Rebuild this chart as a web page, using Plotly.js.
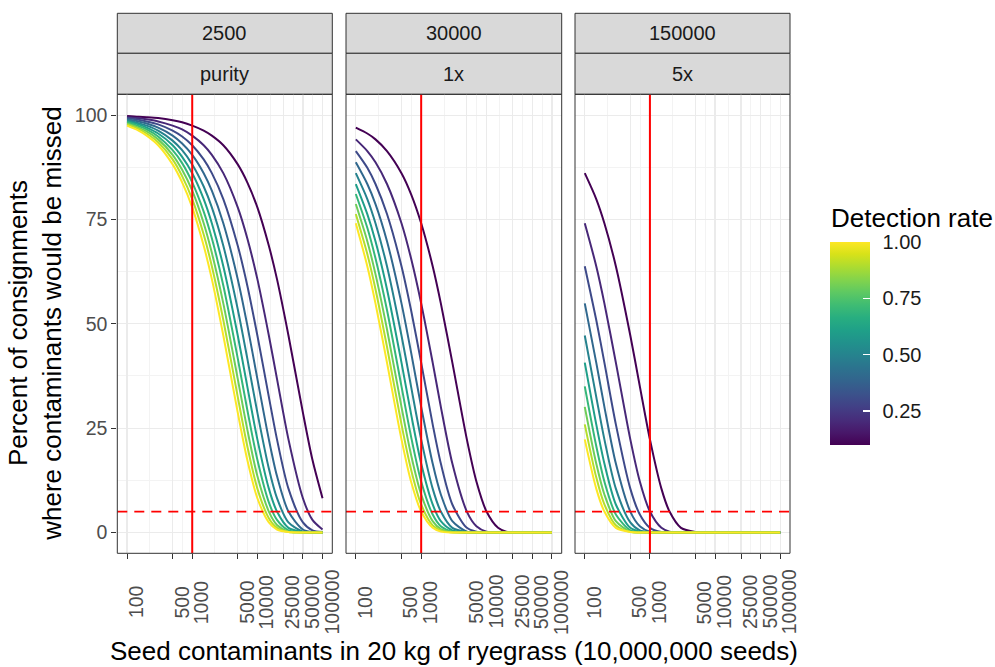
<!DOCTYPE html>
<html><head><meta charset="utf-8">
<script src="https://cdn.plot.ly/plotly-3.0.1.min.js"></script>
<style>html,body{margin:0;padding:0;background:#fff}#chart{width:995px;height:667px}</style>
</head><body><div id="chart"></div>
<script>
// ---------- data ----------
const contaminants = [100,150,200,300,500,700,1000,1500,2000,3000,5000,7000,10000,15000,20000,30000,50000,70000,100000];
const detectionRates = [0.1,0.2,0.3,0.4,0.5,0.6,0.7,0.8,0.9,1.0];
const sampleSizes = ['2500','30000','150000'];
const methods = ['purity','1x','5x'];

const missedPurity = [
  [99.8,99.6,99.5,99.3,98.8,98.3,97.5,96.3,95.1,92.8,88.2,83.9,77.9,68.7,60.7,47.2,28.7,17.4,8.2],
  [99.5,99.3,99.0,98.5,97.5,96.6,95.1,92.8,90.5,86.1,77.9,70.5,60.7,47.2,36.8,22.3,8.2,3.0,0.7],
  [99.3,98.9,98.5,97.8,96.3,94.9,92.8,89.4,86.1,79.9,68.7,59.2,47.2,32.5,22.3,10.5,2.4,0.5,0.1],
  [99.0,98.5,98.0,97.0,95.1,93.2,90.5,86.1,81.9,74.1,60.7,49.7,36.8,22.3,13.5,5.0,0.7,0.1,0.0],
  [98.8,98.1,97.5,96.3,93.9,91.6,88.2,82.9,77.9,68.7,53.5,41.7,28.7,15.3,8.2,2.4,0.2,0.0,0.0],
  [98.5,97.8,97.0,95.6,92.8,90.0,86.1,79.9,74.1,63.8,47.2,35.0,22.3,10.5,5.0,1.1,0.1,0.0,0.0],
  [98.3,97.4,96.6,94.9,91.6,88.5,83.9,76.9,70.5,59.2,41.7,29.4,17.4,7.2,3.0,0.5,0.0,0.0,0.0],
  [98.0,97.0,96.1,94.2,90.5,86.9,81.9,74.1,67.0,54.9,36.8,24.7,13.5,5.0,1.8,0.2,0.0,0.0,0.0],
  [97.8,96.7,95.6,93.5,89.4,85.4,79.9,71.4,63.8,50.9,32.5,20.7,10.5,3.4,1.1,0.1,0.0,0.0,0.0],
  [97.5,96.3,95.1,92.8,88.2,83.9,77.9,68.7,60.7,47.2,28.7,17.4,8.2,2.4,0.7,0.1,0.0,0.0,0.0]
];
const missed1x = [
  [97.0,95.6,94.2,91.4,86.1,81.1,74.1,63.8,54.9,40.7,22.3,12.2,5.0,1.1,0.2,0.0,0.0,0.0,0.0],
  [94.2,91.4,88.7,83.5,74.1,65.7,54.9,40.7,30.1,16.5,5.0,1.5,0.2,0.0,0.0,0.0,0.0,0.0,0.0],
  [91.4,87.4,83.5,76.3,63.8,53.3,40.7,25.9,16.5,6.7,1.1,0.2,0.0,0.0,0.0,0.0,0.0,0.0,0.0],
  [88.7,83.5,78.7,69.8,54.9,43.2,30.1,16.5,9.1,2.7,0.2,0.0,0.0,0.0,0.0,0.0,0.0,0.0,0.0],
  [86.1,79.9,74.1,63.8,47.2,35.0,22.3,10.5,5.0,1.1,0.1,0.0,0.0,0.0,0.0,0.0,0.0,0.0,0.0],
  [83.5,76.3,69.8,58.3,40.7,28.4,16.5,6.7,2.7,0.5,0.0,0.0,0.0,0.0,0.0,0.0,0.0,0.0,0.0],
  [81.1,73.0,65.7,53.3,35.0,23.0,12.2,4.3,1.5,0.2,0.0,0.0,0.0,0.0,0.0,0.0,0.0,0.0,0.0],
  [78.7,69.8,61.9,48.7,30.1,18.6,9.1,2.7,0.8,0.1,0.0,0.0,0.0,0.0,0.0,0.0,0.0,0.0,0.0],
  [76.3,66.7,58.3,44.5,25.9,15.1,6.7,1.7,0.5,0.0,0.0,0.0,0.0,0.0,0.0,0.0,0.0,0.0,0.0],
  [74.1,63.8,54.9,40.7,22.3,12.2,5.0,1.1,0.2,0.0,0.0,0.0,0.0,0.0,0.0,0.0,0.0,0.0,0.0]
];
const missed5x = [
  [86.1,79.9,74.1,63.8,47.2,35.0,22.3,10.5,5.0,1.1,0.1,0.0,0.0,0.0,0.0,0.0,0.0,0.0,0.0],
  [74.1,63.8,54.9,40.7,22.3,12.2,5.0,1.1,0.2,0.0,0.0,0.0,0.0,0.0,0.0,0.0,0.0,0.0,0.0],
  [63.8,50.9,40.7,25.9,10.5,4.3,1.1,0.1,0.0,0.0,0.0,0.0,0.0,0.0,0.0,0.0,0.0,0.0,0.0],
  [54.9,40.7,30.1,16.5,5.0,1.5,0.2,0.0,0.0,0.0,0.0,0.0,0.0,0.0,0.0,0.0,0.0,0.0,0.0],
  [47.2,32.5,22.3,10.5,2.4,0.5,0.1,0.0,0.0,0.0,0.0,0.0,0.0,0.0,0.0,0.0,0.0,0.0,0.0],
  [40.7,25.9,16.5,6.7,1.1,0.2,0.0,0.0,0.0,0.0,0.0,0.0,0.0,0.0,0.0,0.0,0.0,0.0,0.0],
  [35.0,20.7,12.2,4.3,0.5,0.1,0.0,0.0,0.0,0.0,0.0,0.0,0.0,0.0,0.0,0.0,0.0,0.0,0.0],
  [30.1,16.5,9.1,2.7,0.2,0.0,0.0,0.0,0.0,0.0,0.0,0.0,0.0,0.0,0.0,0.0,0.0,0.0,0.0],
  [25.9,13.2,6.7,1.7,0.1,0.0,0.0,0.0,0.0,0.0,0.0,0.0,0.0,0.0,0.0,0.0,0.0,0.0,0.0],
  [22.3,10.5,5.0,1.1,0.1,0.0,0.0,0.0,0.0,0.0,0.0,0.0,0.0,0.0,0.0,0.0,0.0,0.0,0.0]
];

const xTickVals = [100,500,1000,5000,10000,25000,50000,100000];
const xTickText = ['100','500','1000','5000','10000','25000','50000','100000'];
const yTickVals = [0,25,50,75,100];
const colorTickVals = [0.25,0.5,0.75,1.0];
const colorTickText = ['0.25','0.50','0.75','1.00'];
const refContaminants = 1000;
const refPercent = 5;

const xTitle = 'Seed contaminants in 20 kg of ryegrass (10,000,000 seeds)';
const yTitle = 'Percent of consignments<br>where contaminants would be missed';
const legendTitle = 'Detection rate';

// ---------- styling / layout ----------
const panelData = [missedPurity, missed1x, missed5x];
const W = 995, H = 667;
const px = v => v / W;
const py = v => 1 - v / H;
const panelX = [[117.3,332.3],[346,561.7],[575,790]];
const panelTop = 94.3, panelBottom = 553.3;
const stripTop = 13.3, stripMid = 53.3;
const cbLeft = 830, cbWidth = 40, cbTop = 241.7, cbBottom = 445;
const palette = ['#440154','#482878','#3E4A89','#31688E','#26828E','#1F9E89','#35B779','#6DCD59','#B4DE2C','#FDE725'];
const FONT = 'Liberation Sans, Arial, sans-serif';
const minorX = xTickVals.slice(1).map((v,i) => Math.sqrt(v * xTickVals[i]));
const minorY = yTickVals.slice(1).map((v,i) => (v + yTickVals[i]) / 2);

const traces = [];
const layout = {
  width: W, height: H,
  margin: {l:0, r:0, t:0, b:0},
  paper_bgcolor: '#fff', plot_bgcolor: '#fff',
  font: {family: FONT, color: '#1A1A1A'},
  showlegend: false,
  shapes: [], annotations: []
};

for (let p = 0; p < 3; p++) {
  const suf = p === 0 ? '' : String(p + 1);
  const xid = 'x' + suf, yid = 'y' + suf;
  for (let j = 0; j < detectionRates.length; j++) {
    traces.push({
      type: 'scatter', mode: 'lines',
      x: contaminants, y: panelData[p][j],
      xaxis: xid, yaxis: yid,
      line: {color: palette[j], width: 2, shape: 'spline', smoothing: 0.8},
      hoverinfo: 'skip', showlegend: false
    });
  }
  layout['xaxis' + suf] = {
    type: 'log', range: [1.85, 5.15],
    domain: [px(panelX[p][0]), px(panelX[p][1])],
    anchor: yid,
    tickvals: xTickVals, showticklabels: false,
    ticks: 'outside', ticklen: 5, tickwidth: 1, tickcolor: '#333333',
    showgrid: true, gridcolor: '#EBEBEB', gridwidth: 1.2,
    minor: {tickvals: minorX, showgrid: true, gridcolor: '#F3F3F3', gridwidth: 1, ticks: ''},
    showline: false, zeroline: false, fixedrange: true
  };
  layout['yaxis' + suf] = {
    range: [-5, 105],
    domain: [py(panelBottom), py(panelTop)],
    anchor: xid,
    tickvals: yTickVals, showticklabels: p === 0,
    ticks: p === 0 ? 'outside' : '', ticklen: 5, tickwidth: 1, tickcolor: '#333333',
    tickfont: {size: 19.5, color: '#4D4D4D', family: FONT},
    showgrid: true, gridcolor: '#EBEBEB', gridwidth: 1.2,
    minor: {tickvals: minorY, showgrid: true, gridcolor: '#F3F3F3', gridwidth: 1, ticks: ''},
    showline: false, zeroline: false, fixedrange: true
  };
  if (p > 0) layout['yaxis' + suf].matches = 'y';

  // strips
  layout.shapes.push({type:'rect', xref: xid + ' domain', x0:0, x1:1, yref:'paper', y0: py(stripMid), y1: py(stripTop),
    fillcolor:'#D9D9D9', line:{color:'#333333', width:1}, layer:'below'});
  layout.shapes.push({type:'rect', xref: xid + ' domain', x0:0, x1:1, yref:'paper', y0: py(panelTop), y1: py(stripMid),
    fillcolor:'#D9D9D9', line:{color:'#333333', width:1}, layer:'below'});
  layout.annotations.push({xref: xid + ' domain', x:0.5, yref:'paper', y: py((stripTop + stripMid)/2),
    text: sampleSizes[p], showarrow:false, xanchor:'center', yanchor:'middle',
    font:{size:20, color:'#1A1A1A', family: FONT}});
  layout.annotations.push({xref: xid + ' domain', x:0.5, yref:'paper', y: py((stripMid + panelTop)/2),
    text: methods[p], showarrow:false, xanchor:'center', yanchor:'middle',
    font:{size:20, color:'#1A1A1A', family: FONT}});

  // reference lines
  layout.shapes.push({type:'line', xref: xid, x0: refContaminants, x1: refContaminants,
    yref: yid + ' domain', y0:0, y1:1, line:{color:'#FF0000', width:2}});
  layout.shapes.push({type:'line', xref: xid + ' domain', x0:0, x1:1,
    yref: yid, y0: refPercent, y1: refPercent, line:{color:'#FF0000', width:1.8, dash:'10px,7px'}});

  // panel border
  layout.shapes.push({type:'rect', xref: xid + ' domain', x0:0, x1:1, yref: yid + ' domain', y0:0, y1:1,
    line:{color:'#333333', width:1}, fillcolor:'rgba(0,0,0,0)', layer:'above'});

  // rotated x tick labels
  xTickVals.forEach((v, k) => {
    layout.annotations.push({xref: xid, x: Math.log10(v), yref:'paper', y: py(602),
      text: xTickText[k], textangle: -90, showarrow:false, xanchor:'center', yanchor:'middle',
      xshift: 9, borderpad: 0,
      font:{size:19.5, color:'#4D4D4D', family: FONT}});
  });
}

// colour bar (detection rate): one bar carrying the labels, an identical one on top carrying white inside ticks
const cbMin = detectionRates[0], cbMax = detectionRates[detectionRates.length-1];
const cbBase = {x: px(cbLeft), xanchor:'left', xpad:0, y: py((cbTop+cbBottom)/2), yanchor:'middle', ypad:0,
  len: (cbBottom-cbTop)/H, lenmode:'fraction', thickness: cbWidth, thicknessmode:'pixels',
  outlinewidth:0, tickvals: colorTickVals, ticktext: colorTickText,
  tickfont:{size:20, color:'#1A1A1A', family: FONT}, title:{text:''}};
traces.push({
  type:'scatter', mode:'markers', x:[null], y:[null], xaxis:'x', yaxis:'y',
  hoverinfo:'skip', showlegend:false,
  marker:{color:[cbMin], colorscale:'Viridis', cmin: cbMin, cmax: cbMax, showscale:true,
    colorbar: Object.assign({}, cbBase, {ticks:'outside', ticklen:9, tickwidth:1, tickcolor:'rgba(255,255,255,0)'})}
});
traces.push({
  type:'scatter', mode:'markers', x:[null], y:[null], xaxis:'x', yaxis:'y',
  hoverinfo:'skip', showlegend:false,
  marker:{color:[cbMin], colorscale:'Viridis', cmin: cbMin, cmax: cbMax, showscale:true,
    colorbar: Object.assign({}, cbBase, {ticks:'inside', ticklen:7, tickwidth:1.2, tickcolor:'#FFFFFF', showticklabels:false})}
});

// titles
layout.annotations.push({xref:'paper', yref:'paper', x: px((panelX[0][0]+panelX[2][1])/2), y: py(651),
  text: xTitle, showarrow:false, xanchor:'center', yanchor:'middle', font:{size:26, color:'#000000', family: FONT}});
layout.annotations.push({xref:'paper', yref:'paper', x: px(35), y: py((panelTop+panelBottom)/2),
  text: yTitle, textangle:-90, showarrow:false, xanchor:'center', yanchor:'middle', font:{size:26, color:'#000000', family: FONT}});
layout.annotations.push({xref:'paper', yref:'paper', x: px(829), y: py(218),
  text: legendTitle, showarrow:false, xanchor:'left', yanchor:'middle', font:{size:26, color:'#000000', family: FONT}});

Plotly.newPlot('chart', traces, layout, {staticPlot:true, displayModeBar:false});
</script>
</body></html>
